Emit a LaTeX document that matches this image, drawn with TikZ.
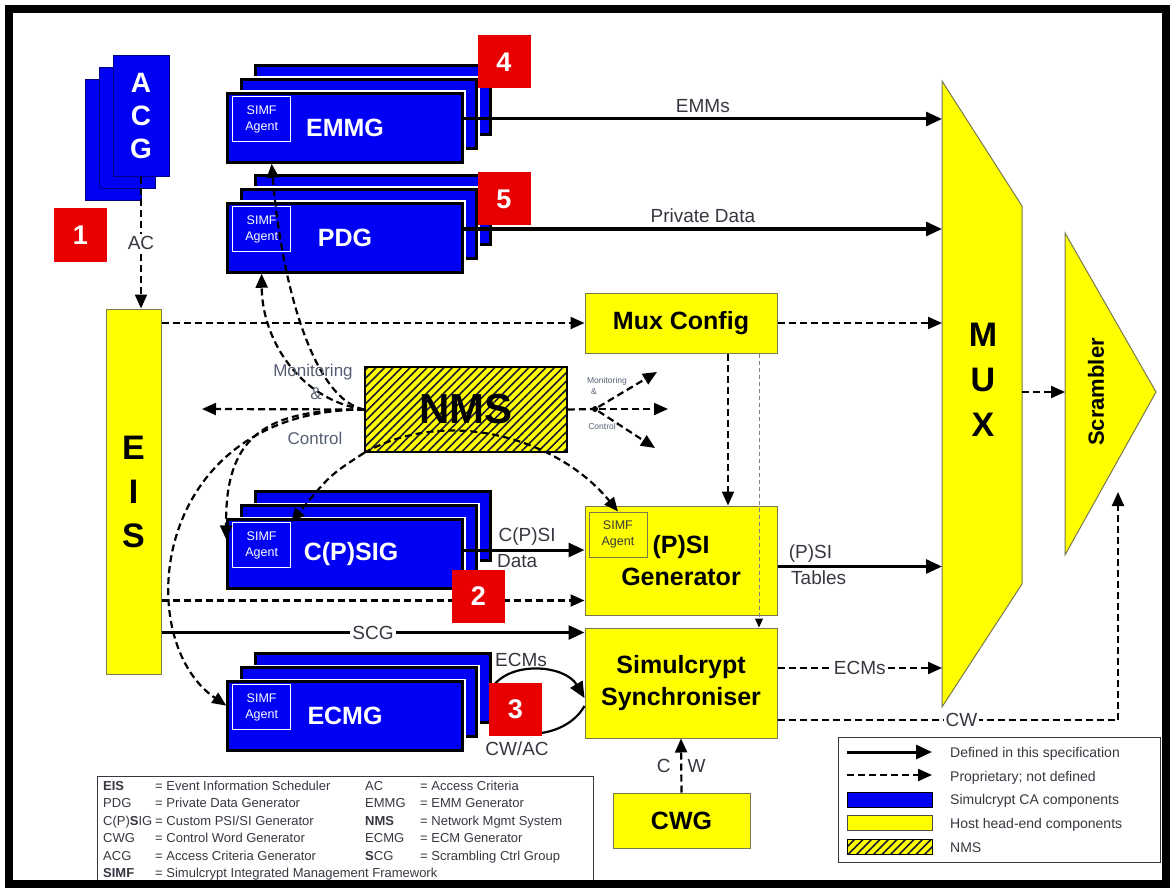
\documentclass[tikz,border=0pt]{standalone}
\usepackage{fontspec}
\setmainfont{Liberation Sans}
\usetikzlibrary{positioning,arrows.meta,patterns.meta}

\definecolor{caBlue}{RGB}{0,0,245}
\definecolor{hostYellow}{RGB}{255,255,0}
\definecolor{hostEdge}{RGB}{120,120,80}
\definecolor{tagRed}{RGB}{232,0,0}
\definecolor{lblGray}{RGB}{55,55,65}
\definecolor{mcGray}{RGB}{85,95,115}
\definecolor{hatchInk}{RGB}{25,25,55}

\tikzset{
  every node/.style={inner sep=0pt},
  acg/.style={draw=blue!50!black,line width=0.6pt,fill=caBlue,minimum width=56pt,minimum height=121pt},
  ca/.style={draw=black,line width=2.5pt,fill=caBlue,preaction={draw=white,line width=6pt},
    minimum width=235pt,minimum height=69pt,text=white,font=\fontsize{25}{28}\selectfont\bfseries},
  agent/.style={draw=white,line width=0.8pt,minimum width=58pt,minimum height=45pt,align=center,
    text=white,font=\fontsize{12.5}{16}\selectfont},
  host/.style={draw=hostEdge,line width=1pt,fill=hostYellow,align=center,font=\fontsize{25}{32}\selectfont\bfseries},
  nmsbox/.style={draw=black,line width=2pt,preaction={fill=hostYellow},
    pattern={Lines[angle=45,distance=6pt,line width=1.6pt]},pattern color=hatchInk},
  tag/.style={fill=tagRed,text=white,minimum width=53pt,minimum height=53pt,font=\fontsize{27}{27}\selectfont\bfseries},
  lbl/.style={text=lblGray,font=\fontsize{19}{21}\selectfont},
  mclbl/.style={text=mcGray,font=\fontsize{17}{19}\selectfont},
  mcsmall/.style={text=mcGray,font=\fontsize{8.5}{9}\selectfont},
  defined/.style={line width=3pt,-{Triangle[length=16pt,width=14pt]}},
  propr/.style={line width=2.2pt,dash pattern=on 7pt off 4pt,-{Triangle[length=14pt,width=12pt]}},
  thinprop/.style={draw=gray,line width=1pt,dash pattern=on 4pt off 3pt,-{Triangle[length=9pt,width=8pt,color=black]}},
  legtxt/.style={text=lblGray,font=\fontsize{13}{15}\selectfont,anchor=base west},
}

\begin{document}
\begin{tikzpicture}[x=1pt,y=-1pt]
\useasboundingbox (0,0) rectangle (1171,888);

% access criteria generator
\node[acg] (acgC) at (113,140) {};
\node[acg] (acgB) at (127,128) {};
\node[acg,text=white,align=center,font=\fontsize{28}{33}\selectfont\bfseries] (acg) at (141,116) {A\\C\\G};

% event information scheduler
\node[host,minimum width=55pt,minimum height=365pt,font=\fontsize{34}{44}\selectfont\bfseries] (eis) at (133.5,491.5) {E\\I\\S};

% CA stacks
\node[ca] (emmgC) at (373,100) {};
\node[ca] (emmgB) at (359,114) {};
\node[ca] (emmg) at (345,128) {EMMG};
\node[agent,below right=4pt and 6pt of emmg.north west] (emmgA) {SIMF\\Agent};

\node[ca] (pdgC) at (373,210) {};
\node[ca] (pdgB) at (359,224) {};
\node[ca] (pdg) at (345,238) {PDG};
\node[agent,below right=4pt and 6pt of pdg.north west] (pdgA) {SIMF\\Agent};

\node[ca] (cpsigC) at (373,526) {};
\node[ca] (cpsigB) at (359,540) {};
\node[ca] (cpsig) at (345,554) {\hspace{12pt}C(P)SIG};
\node[agent,below right=4pt and 6pt of cpsig.north west] (cpsigA) {SIMF\\Agent};

\node[ca] (ecmgC) at (373,688) {};
\node[ca] (ecmgB) at (359,702) {};
\node[ca] (ecmg) at (345,716) {ECMG};
\node[agent,below right=4pt and 6pt of ecmg.north west] (ecmgA) {SIMF\\Agent};

% head-end boxes
\node[host,minimum width=192pt,minimum height=60pt] (muxcfg) at (681,323) {Mux Config};
\node[host,minimum width=192pt,minimum height=109pt] (psi) at (681,560.5) {(P)SI\\Generator};
\node[agent,draw=hostEdge,text=lblGray,below right=6pt and 4pt of psi.north west] (psiA) {SIMF\\Agent};
\node[host,minimum width=192pt,minimum height=110pt] (sync) at (681,683) {Simulcrypt\\Synchroniser};
\node[host,minimum width=137pt,minimum height=55pt] (cwg) at (681.5,820.5) {CWG};
\node[nmsbox,minimum width=202pt,minimum height=85pt,font=\fontsize{42}{44}\selectfont\bfseries] (nms) at (466,409.5) {NMS};

% mux and scrambler
\draw[draw=hostEdge,line width=1pt,fill=hostYellow] (942,81) -- (1022,206) -- (1022,584) -- (942,707) -- cycle;
\node[align=center,font=\fontsize{34}{45}\selectfont\bfseries] (mux) at (983,380) {M\\U\\X};
\draw[draw=hostEdge,line width=1pt,fill=hostYellow] (1065,233) -- (1156,392) -- (1065,555) -- cycle;
\node[rotate=90,font=\fontsize{22}{24}\selectfont\bfseries] (scr) at (1096,392) {Scrambler};
\coordinate (muxW) at (942,0);
\coordinate (muxE) at (1022,392);
\coordinate (scrW) at (1065,392);
\coordinate (scrB) at (1118,492);

% monitoring and control points
\coordinate (mcL) at (202,409);
\coordinate (mcR) at (595,409);
\coordinate (mcR1) at (657,372);
\coordinate (mcR2) at (668,409);
\coordinate (mcR3) at (655,448);

% connectors
\draw[propr] (acg.south) -- node[lbl,fill=white,inner sep=2pt] {AC} (acg.south |- eis.north);
\draw[defined] ([yshift=9pt]emmg.east) -- node[lbl,above=5pt] {EMMs} ([yshift=9pt]emmg.east -| muxW);
\draw[defined] ([yshift=9pt]pdg.east) -- node[lbl,above=5pt] {Private Data} ([yshift=9pt]pdg.east -| muxW);
\draw[propr] (eis.east |- muxcfg.west) -- (muxcfg.west);
\draw[propr] (muxcfg.east) -- (muxcfg.east -| muxW);
\draw[propr] (muxE) -- (scrW);

\draw[propr] (nms.west) -- (mcL);
\draw[propr,-] (nms.east) -- (mcR);
\fill (mcR) circle (3pt);
\foreach \c in {mcR1,mcR2,mcR3}
  \draw[propr,shorten <=4pt] (mcR) -- (\c);

\draw[propr] (nms.west) .. controls (315,400) and (282,290) .. ([xshift=10pt]emmgA.south |- emmg.south);
\draw[propr] (nms.west) .. controls (300,400) and (262,340) .. (pdgA.south |- pdg.south);
\draw[propr] (nms.west) .. controls (260,409) and (225,440) .. (cpsig.173);
\draw[propr] (nms.west) .. controls (150,410) and (130,640) .. (ecmg.175);
\draw[propr] (nms.south west) .. controls (330,475) .. (cpsigA.north east);
\draw[propr] (nms.south west) .. controls (450,405) and (560,440) .. (psiA.north);

\draw[propr] ([xshift=47pt]muxcfg.south) -- ([xshift=47pt]psi.north);
\draw[thinprop] ([xshift=78pt]muxcfg.south) -- ([xshift=78pt]sync.north);

\draw[defined] ([yshift=4pt]cpsig.east) -- node[lbl,above=3pt,xshift=3pt] {C(P)SI} node[lbl,below=3pt,xshift=-7pt] {Data} ([yshift=4pt]cpsig.east -| psi.west);
\coordinate (psiIn) at ([yshift=-40pt]psi.west);
\draw[propr] (eis.east |- psiIn) -- (psiIn);
\coordinate (syncIn) at ([yshift=-5pt]sync.north west);
\draw[defined] (eis.east |- syncIn) -- node[lbl,fill=white,inner sep=2pt] {SCG} (syncIn);
\draw[defined] ([yshift=-6pt]psi.east) -- node[lbl,above=3pt,pos=0.2] {(P)SI} node[lbl,below=3pt,pos=0.25] {Tables} ([yshift=-6pt]psi.east -| muxW);
\draw[propr] ([yshift=15pt]sync.east) -- node[lbl,fill=white,inner sep=2pt] {ECMs} ([yshift=15pt]sync.east -| muxW);
\draw[propr] ([yshift=-37pt]sync.east) -- node[lbl,fill=white,inner sep=2pt,pos=0.54] {CW} ([yshift=-37pt]sync.east -| scrB) -- (scrB);

\draw[defined,line width=2.2pt] (ecmgC.east) .. controls (510,660) and (565,665) .. ([yshift=-15pt]sync.west);
\draw[defined,line width=2.2pt] ([yshift=-23pt]sync.west) .. controls (565,740) and (510,740) .. ([yshift=-19pt]ecmgC.east);
\node[lbl] (ecmsTxt) at (521,660) {ECMs};
\node[lbl] (cwacTxt) at (517,749) {CW/AC};
\draw[propr] (cwg.north) -- node[lbl] {C\hspace{17pt}W} (sync.south);

% monitoring texts
\node[mclbl] (mcA) at (313,372) {Monitoring};
\node[mclbl] (mcB) at (316,394) {\&};
\node[mclbl] (mcC) at (315,438) {Control};
\node[mcsmall] (mcD) at (607,381) {Monitoring};
\node[mcsmall] (mcE) at (594,392) {\&};
\node[mcsmall] (mcF) at (602,426) {Control};

% numbered tags
\node[tag] (t1) at (80.5,235) {1};
\node[tag] (t2) at (478.5,596.5) {2};
\node[tag] (t3) at (515.5,709) {3};
\node[tag] (t4) at (504,62) {4};
\node[tag] (t5) at (504,199) {5};

% abbreviations
\draw[lblGray,line width=0.8pt] (97,776) rectangle (593,884);
\foreach \ab/\de/\abb/\dee [count=\i] in {
  {\textbf{EIS}}/{Event Information Scheduler}/AC/{Access Criteria},
  PDG/{Private Data Generator}/EMMG/{EMM Generator},
  {C(P)\textbf{S}IG}/{Custom PSI/SI Generator}/{\textbf{NMS}}/{Network Mgmt System},
  CWG/{Control Word Generator}/ECMG/{ECM Generator},
  ACG/{Access Criteria Generator}/{\textbf{S}CG}/{Scrambling Ctrl Group}}
{
  \node[legtxt] (kA\i) at (103,{772.5+17.5*\i}) {\ab};
  \node[legtxt] (kB\i) at (155,{772.5+17.5*\i}) {= \de};
  \node[legtxt] (kC\i) at (365,{772.5+17.5*\i}) {\abb};
  \node[legtxt] (kD\i) at (420,{772.5+17.5*\i}) {= \dee};
}
\node[legtxt] (kA6) at (103,877) {\textbf{SIMF}};
\node[legtxt] (kB6) at (155,877) {= Simulcrypt Integrated Management Framework};

% key
\draw[lblGray,line width=0.8pt] (838,737) rectangle (1160,862);
\coordinate (k1a) at (847,752);
\coordinate (k1b) at (932,752);
\draw[defined] (k1a) -- (k1b);
\coordinate (k2a) at (847,775);
\coordinate (k2b) at (932,775);
\draw[propr] (k2a) -- (k2b);
\node[draw=black,line width=0.8pt,fill=caBlue,minimum width=85pt,minimum height=15pt] (k3) at (889.5,800) {};
\node[draw=black!70,line width=0.8pt,fill=hostYellow,minimum width=85pt,minimum height=15pt] (k4) at (889.5,823) {};
\node[nmsbox,line width=0.8pt,minimum width=85pt,minimum height=15pt] (k5) at (889.5,847) {};
\foreach \t [count=\i] in {Defined in this specification,{Proprietary; not defined},Simulcrypt CA components,Host head-end components,NMS}
  \node[legtxt,font=\fontsize{14}{16}\selectfont] (kt\i) at (950,{733.5+23.75*\i}) {\t};

% frame
\draw[line width=8pt] (9,9) rectangle (1166,884);
\end{tikzpicture}
\end{document}
